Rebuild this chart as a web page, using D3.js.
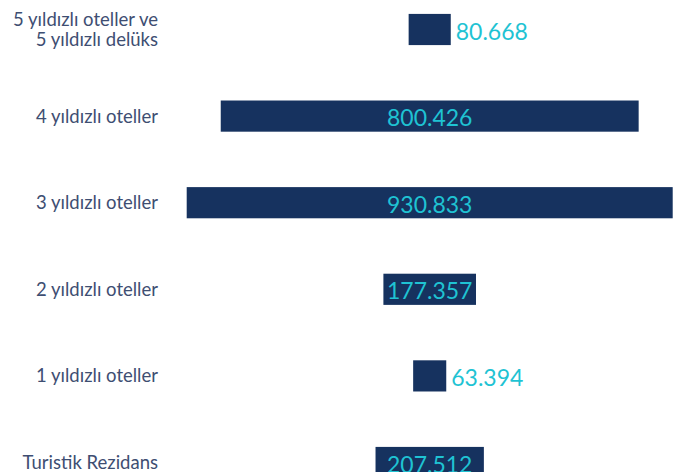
<!DOCTYPE html>
<html>
<head>
<meta charset="utf-8">
<script src="https://cdn.jsdelivr.net/npm/d3@7"></script>
<style>
  html, body { margin: 0; padding: 0; background: #fff; overflow: hidden; }
  svg { display: block; }
</style>
</head>
<body>
<div id="chart"></div>
<script>
// categories (top to bottom) and their values
const categories = [
  ["5 yıldızlı oteller ve", "5 yıldızlı delüks"],
  ["4 yıldızlı oteller"],
  ["3 yıldızlı oteller"],
  ["2 yıldızlı oteller"],
  ["1 yıldızlı oteller"],
  ["Turistik Rezidans"]
];
const values = [80668, 800426, 930833, 177357, 63394, 207512];
const valueLabels = ["80.668", "800.426", "930.833", "177.357", "63.394", "207.512"];

const width = 682;
const height = 472;
const centerX = 429.7;
const barColor = "#16325f";
const valueColor = "#1fc3d3";
const labelColor = "#3e4e72";

const svg = d3.select("#chart")
    .append("svg")
    .attr("width", width)
    .attr("height", height);

// bar width scale: bars are centered on centerX
const w = d3.scaleLinear()
    .domain([0, 930833])
    .range([0, 486]);

const y = d3.scaleBand()
    .domain(d3.range(categories.length))
    .range([-13.8, -13.8 + 86.6 * categories.length])
    .paddingInner(0.64)
    .paddingOuter(0.32);

const rows = svg.selectAll("g.row")
    .data(values)
    .join("g")
    .attr("class", "row");

rows.append("rect")
    .attr("x", d => centerX - w(d) / 2)
    .attr("y", (d, i) => y(i))
    .attr("width", d => w(d))
    .attr("height", y.bandwidth())
    .attr("fill", barColor);

// value labels: inside the bar if it fits, else to the right
rows.append("text")
    .attr("font-family", "Lato, 'Noto Sans', sans-serif")
    .attr("font-size", 23)
    .attr("fill", valueColor)
    .attr("dominant-baseline", "central")
    .attr("y", (d, i) => y(i) + y.bandwidth() / 2 + 1)
    .text((d, i) => valueLabels[i])
    .each(function(d) {
        const tw = this.getComputedTextLength();
        const t = d3.select(this);
        if (tw <= w(d) + 2) {
            t.attr("x", centerX).attr("text-anchor", "middle");
        } else {
            t.attr("x", centerX + w(d) / 2 + 5).attr("text-anchor", "start");
        }
    });

// category labels on the left
const cat = svg.selectAll("text.cat")
    .data(categories)
    .join("text")
    .attr("class", "cat")
    .attr("font-family", "Lato, 'Noto Sans', sans-serif")
    .attr("font-size", 18.5)
    .attr("fill", labelColor)
    .attr("text-anchor", "end")
    .attr("x", 158);

cat.selectAll("tspan")
    .data((d, i) => d.map((line, j) => ({line, j, n: d.length, i})))
    .join("tspan")
    .attr("x", 158)
    .attr("y", d => y(d.i) + y.bandwidth() / 2 + 6.5 + (d.j - (d.n - 1) / 2) * 20)
    .text(d => d.line);
</script>
</body>
</html>
